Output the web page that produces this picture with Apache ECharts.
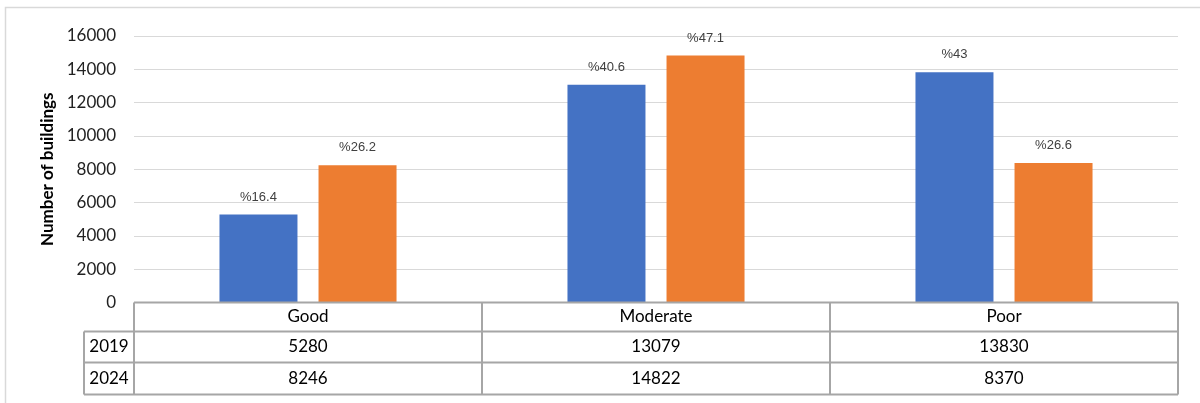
<!DOCTYPE html>
<html>
<head>
<meta charset="utf-8">
<script src="https://cdn.jsdelivr.net/npm/echarts@6/dist/echarts.min.js"></script>
<style>
  html, body { margin: 0; padding: 0; background: #fff; }
  #chart { width: 1200px; height: 403px; }
</style>
</head>
<body>
<div id="chart"></div>
<script>
// Building condition counts by year
const categories = ['Good', 'Moderate', 'Poor'];
const years = ['2019', '2024'];
const counts2019 = [5280, 13079, 13830];
const counts2024 = [8246, 14822, 8370];
const share2019 = [16.4, 40.6, 43];
const share2024 = [26.2, 47.1, 26.6];

const colors = ['#4472C4', '#ED7D31'];
const tableFont = 'Lato, "Open Sans", sans-serif';
const labelFont = '"Liberation Sans", Arial, sans-serif';

const chart = echarts.init(document.getElementById('chart'), null, { renderer: 'canvas' });

function barSeries(name, values, shares, color) {
  return {
    name: name,
    type: 'bar',
    data: values,
    barWidth: 78,
    barGap: '27%',
    itemStyle: { color: color },
    label: {
      show: true,
      position: 'top',
      distance: 11,
      fontFamily: labelFont,
      fontSize: 13,
      color: '#404040',
      formatter: p => '%' + shares[p.dataIndex]
    }
  };
}

chart.setOption({
  animation: false,
  backgroundColor: '#fff',
  grid: { left: 134, right: 22, top: 36, height: 266.5 },
  xAxis: {
    type: 'category',
    data: categories,
    axisLine: { show: false },
    axisTick: { show: false },
    axisLabel: { show: false }
  },
  yAxis: {
    type: 'value',
    min: 0,
    max: 16000,
    interval: 2000,
    name: 'Number of buildings',
    nameLocation: 'middle',
    nameGap: 76,
    nameTextStyle: { fontFamily: tableFont, fontWeight: 'bold', fontSize: 17, color: '#000' },
    axisLine: { show: false },
    axisTick: { show: false },
    axisLabel: {
      fontFamily: tableFont, fontSize: 17, color: '#222', margin: 18,
      formatter: v => String(v)
    },
    splitLine: { lineStyle: { color: '#d9d9d9', width: 1 } }
  },
  series: [
    barSeries(years[0], counts2019, share2019, colors[0]),
    barSeries(years[1], counts2024, share2024, colors[1])
  ]
});

// Data table under the plot, laid out from the category axis positions
function buildTable() {
  const centers = categories.map(c => chart.convertToPixel({ xAxisIndex: 0 }, c));
  const band = centers[1] - centers[0];
  const edges = centers.map(c => c - band / 2).concat([centers[centers.length - 1] + band / 2]);
  const xL = edges[0];
  const xR = edges[edges.length - 1];
  const y0 = chart.convertToPixel({ yAxisIndex: 0 }, 0);
  const rowH = [29, 31, 32];
  const headW = 50;
  const rowsY = [y0];
  rowH.forEach(h => rowsY.push(rowsY[rowsY.length - 1] + h));
  const yB = rowsY[rowsY.length - 1];
  const stroke = { stroke: '#a6a6a6', lineWidth: 2 };
  const els = [];

  const line = (x1, y1, x2, y2) => els.push({
    type: 'line', silent: true, z: 10,
    shape: { x1: x1, y1: y1, x2: x2, y2: y2 }, style: stroke
  });
  const text = (x, y, t) => els.push({
    type: 'text', silent: true, z: 11, x: x, y: y,
    style: { text: t, fill: '#000', font: '17px ' + tableFont, align: 'center', verticalAlign: 'middle' }
  });

  line(xL, rowsY[0], xR, rowsY[0]);
  for (let r = 1; r < rowsY.length; r++) line(xL - headW, rowsY[r], xR, rowsY[r]);
  edges.forEach(x => line(x, rowsY[0], x, yB));
  line(xL - headW, rowsY[1], xL - headW, yB);

  const rows = [counts2019, counts2024];
  categories.forEach((c, i) => {
    text(centers[i], (rowsY[0] + rowsY[1]) / 2, c);
    rows.forEach((vals, r) => text(centers[i], (rowsY[r + 1] + rowsY[r + 2]) / 2, String(vals[i])));
  });
  years.forEach((yr, r) => text(xL - headW / 2, (rowsY[r + 1] + rowsY[r + 2]) / 2, yr));

  // light frame around the chart area
  els.push({
    type: 'rect', silent: true, z: 0,
    shape: { x: 5.5, y: 7.5, width: 1300, height: 500 },
    style: { fill: null, stroke: '#d9d9d9', lineWidth: 1.5 }
  });

  chart.setOption({ graphic: els });
}
buildTable();
</script>
</body>
</html>
